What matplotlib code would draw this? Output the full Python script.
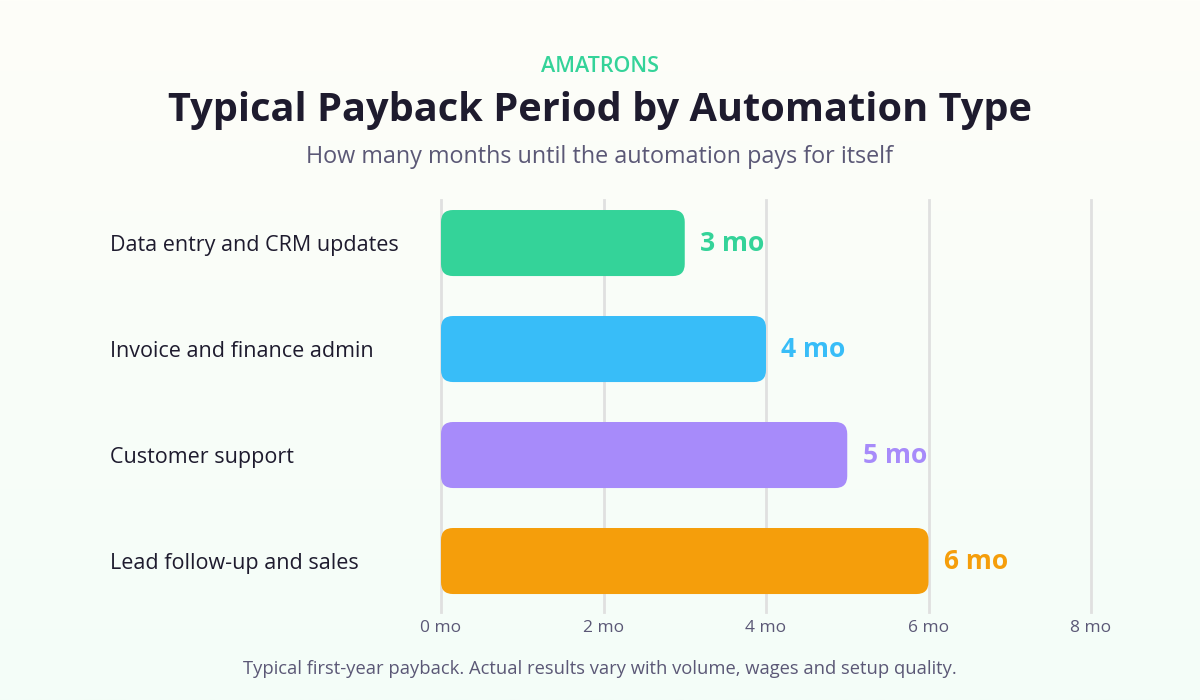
import numpy as np
import matplotlib
matplotlib.use("Agg")
import matplotlib.pyplot as plt
from matplotlib.patches import FancyBboxPatch
from matplotlib.colors import LinearSegmentedColormap

plt.rcParams['font.family'] = ['Open Sans', 'DejaVu Sans']

categories = ['Data entry and CRM updates', 'Invoice and finance admin',
              'Customer support', 'Lead follow-up and sales']
months = [3, 4, 5, 6]
bar_colors = ['#34D399', '#38BDF8', '#A78BFA', '#F59E0B']
tick_vals = [0, 2, 4, 6, 8]
tick_labels = ['0 mo', '2 mo', '4 mo', '6 mo', '8 mo']

DARK = '#1E1B2E'
MUTED = '#5B5876'

fig = plt.figure(figsize=(12, 7), dpi=100)

# soft cream -> mint background
bg = fig.add_axes([0, 0, 1, 1], zorder=-10)
grad = np.linspace(0, 1, 256).reshape(-1, 1)
cmap = LinearSegmentedColormap.from_list('bg', ['#FEFEF9', '#F4FDF8'])
bg.imshow(grad, aspect='auto', cmap=cmap, extent=[0, 1, 0, 1], origin='upper')
bg.set_axis_off()

ax = fig.add_axes([441 / 1200, 1 - 612 / 700, 650 / 1200, 412 / 700])
ax.patch.set_alpha(0)
ax.set_xlim(0, 8)
ax.set_ylim(3.481, -0.406)

for v in tick_vals:
    ax.axvline(v, color='#E0E0E0', lw=2, zorder=0, clip_on=False)

bar_h = 0.623
# px per unit: x 81.25, y 106 -> keep corners round
for i, (m, c) in enumerate(zip(months, bar_colors)):
    r = 12 / 81.25
    patch = FancyBboxPatch((0, i - bar_h / 2), m, bar_h,
                           boxstyle=f"round,pad=0,rounding_size={r}",
                           mutation_aspect=81.25 / 106,
                           fc=c, ec='none', zorder=2)
    ax.add_patch(patch)
    ax.text(m + 0.19, i, f'{m} mo', color=c, fontsize=19, fontweight='bold',
            va='center', ha='left', zorder=3)

for s in ax.spines.values():
    s.set_visible(False)

ax.set_xticks(tick_vals)
ax.set_xticklabels(tick_labels, color=MUTED, fontsize=12.5)
ax.set_yticks(range(len(categories)))
ax.set_yticklabels(categories, color=DARK, fontsize=15.5, fontweight='medium', ha='left')
ax.tick_params(axis='x', length=0, pad=6)
ax.tick_params(axis='y', length=0, pad=331 * 0.72)
for lbl in ax.get_yticklabels():
    lbl.set_y(lbl.get_position()[1])

fig.text(0.5, 1 - 66 / 700, 'AMATRONS', color='#34D399', fontsize=15.5,
         fontweight='semibold', ha='center', va='center')
fig.text(0.5, 1 - 110 / 700, 'Typical Payback Period by Automation Type', color=DARK,
         fontsize=28.6, fontweight='bold', ha='center', va='center')
fig.text(0.5, 1 - 157 / 700, 'How many months until the automation pays for itself',
         color=MUTED, fontsize=16.8, ha='center', va='center')
fig.text(0.5, 1 - 669 / 700,
         'Typical first-year payback. Actual results vary with volume, wages and setup quality.',
         color=MUTED, fontsize=13.2, ha='center', va='center')

fig.savefig('out.png', dpi=100)
